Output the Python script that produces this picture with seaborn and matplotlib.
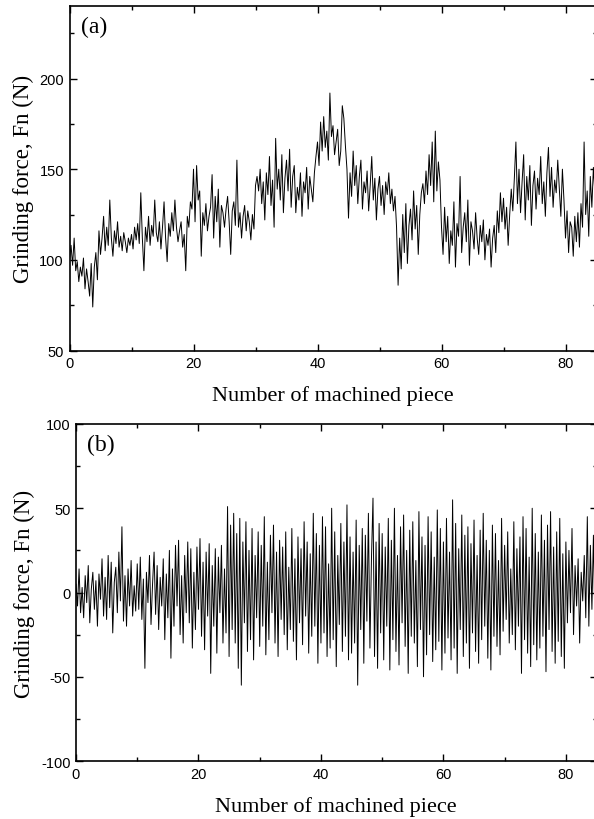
import numpy as np
import pandas as pd
import matplotlib
matplotlib.use("Agg")
import matplotlib.pyplot as plt
from matplotlib.ticker import MultipleLocator
import seaborn as sns

# ---------------- data ----------------
sample_step = 0.25  # pieces per sample

force_raw = [
    100, 108, 97, 112, 94, 99, 88, 96, 91, 101, 84, 95, 88, 80, 98, 74, 96, 104, 89, 116,
    103, 112, 124, 105, 118, 108, 133, 112, 102, 116, 109, 121, 107, 113, 105, 115, 110, 104, 112, 108,
    114, 106, 118, 111, 120, 109, 137, 112, 94, 118, 110, 124, 108, 119, 113, 133, 115, 110, 121, 106,
    118, 132, 112, 99, 120, 113, 126, 116, 133, 118, 110, 116, 121, 107, 114, 94, 124, 118, 132, 128,
    150, 121, 152, 133, 138, 102, 126, 119, 131, 116, 124, 129, 147, 112, 135, 121, 139, 107, 130, 126,
    118, 128, 135, 121, 103, 127, 132, 119, 155, 118, 126, 112, 124, 130, 116, 127, 121, 111, 125, 117,
    141, 146, 138, 150, 131, 143, 122, 148, 136, 157, 130, 144, 118, 167, 139, 150, 133, 158, 126, 145,
    155, 138, 161, 129, 146, 152, 126, 140, 133, 148, 124, 143, 137, 151, 128, 146, 139, 132, 148, 157,
    165, 152, 176, 160, 179, 162, 171, 155, 192, 168, 174, 158, 165, 172, 152, 160, 185, 178, 163, 150,
    123, 148, 135, 160, 141, 152, 131, 146, 155, 128, 143, 137, 149, 127, 141, 157, 133, 145, 122, 139,
    146, 130, 141, 125, 143, 136, 148, 131, 139, 127, 135, 118, 86, 112, 95, 125, 104, 131, 98, 119,
    128, 111, 138, 117, 130, 103, 125, 137, 142, 131, 149, 136, 158, 141, 165, 132, 171, 138, 154, 144,
    118, 103, 129, 110, 124, 98, 116, 108, 132, 96, 120, 113, 146, 104, 118, 126, 110, 133, 97, 121,
    116, 106, 126, 112, 103, 119, 110, 122, 100, 114, 108, 117, 96, 112, 119, 104, 127, 115, 137, 121,
    134, 117, 129, 108, 125, 139, 127, 145, 165, 131, 150, 126, 143, 158, 122, 146, 133, 152, 119, 141,
    149, 128, 145, 136, 157, 131, 143, 124, 148, 162, 135, 151, 129, 144, 137, 155, 140, 124, 150, 133,
    112, 127, 104, 121, 118, 102, 124, 110, 126, 107, 131, 118, 165, 125, 138, 113, 146, 129, 151, 136,
    140,
]

force_residual = [
    5, -8, 14, -12, 3, -15, 10, -6, 16, -18, 2, 12, -10, 7, -20, 11, -4, 20, -14, 9,
    -16, 22, -9, 18, -24, 6, 15, -12, 24, -5, 39, -17, 10, -20, 14, -8, 19, -14, 4, -11,
    17, -10, 21, -16, 8, -45, 12, -6, 22, -19, 5, 24, -13, 16, -22, 9, -8, 20, -28, 11,
    -15, 25, -39, 14, -20, 28, -8, 31, -25, 10, -30, 22, -12, 30, -18, 26, -33, 12, -22, 27,
    -10, 32, -26, 18, -34, 24, -14, 29, -48, 16, -20, 26, -36, 21, -12, 28, -30, 14, -24, 51,
    -38, 40, -22, 47, -30, 35, -45, 44, -55, 30, -18, 42, -35, 25, -28, 38, -40, 22, -15, 36,
    -32, 28, -20, 45, -37, 18, -28, 34, -12, 40, -30, 24, -38, 31, -16, 27, -25, 36, -34, 15,
    -22, 38, -29, 20, -40, 33, -18, 26, -31, 42, -14, 30, -36, 23, -26, 47, -20, 35, -42, 28,
    -30, 45, -24, 39, -38, 17, -33, 50, -28, 36, -44, 22, -19, 41, -35, 30, -26, 52, -40, 33,
    -36, 24, -30, 43, -55, 28, -22, 38, -42, 34, -17, 47, -33, 20, 56, -38, 30, -45, 41, -24,
    35, -40, 27, -20, 44, -46, 31, -28, 50, -35, 22, -43, 39, -18, 46, -32, 25, -48, 37, -26,
    42, -30, 19, -44, 48, -22, 33, -50, 28, -37, 45, -25, 36, -41, 21, -34, 49, -29, 38, -46,
    30, -36, 44, -27, 24, -40, 55, -33, 41, -48, 26, -22, 46, -38, 34, -30, 39, -45, 29, -24,
    43, -35, 22, -42, 37, -28, 47, -20, 31, -39, 25, -46, 40, -26, 35, -32, 19, -37, 44, -23,
    28, -16, 36, -30, 14, -25, 42, -34, 26, -20, 33, -48, 45, -28, 38, -36, 21, -44, 50, -31,
    35, -40, 24, -33, 46, -26, 31, -47, 40, -22, 48, -35, 27, -42, 36, -29, 44, -38, 23, -45,
    30, -18, 25, -12, 38, -25, 16, -8, 20, -30, 12, -5, 22, -15, 45, -20, 28, -10, 34, -22,
    10,
]

x_ticks = [0, 20, 40, 60, 80]
y_ticks_a = [50, 100, 150, 200]
y_ticks_b = [-100, -50, 0, 50, 100]
panel_labels = ["(a)", "(b)"]
x_label = "Number of machined piece"
y_label = "Grinding force, Fn (N)"

df_a = pd.DataFrame({"piece": np.arange(len(force_raw)) * sample_step, "force": force_raw})
df_b = pd.DataFrame({"piece": np.arange(len(force_residual)) * sample_step, "force": force_residual})

# ---------------- style ----------------
sns.set_style("ticks")
plt.rcParams["font.family"] = ["Liberation Sans", "DejaVu Sans"]
plt.rcParams["axes.unicode_minus"] = False
plt.rcParams["text.color"] = "black"
plt.rcParams["axes.labelcolor"] = "black"
serif = ["Liberation Serif", "DejaVu Serif"]

W, H = 594, 820
fig = plt.figure(figsize=(W / 100, H / 100), dpi=100)

def px_axes(left, top, right, bottom):
    return fig.add_axes([left / W, 1 - bottom / H, (right - left) / W, (bottom - top) / H])

ax_a = px_axes(69.5, 7, 596.5, 351.5)
ax_b = px_axes(76, 425, 596.5, 762)

for ax, df, yt, ylim, lab in [
    (ax_a, df_a, y_ticks_a, (50, 240), panel_labels[0]),
    (ax_b, df_b, y_ticks_b, (-100, 100), panel_labels[1]),
]:
    sns.lineplot(data=df, x="piece", y="force", ax=ax, color="black",
                 linewidth=0.7, estimator=None, sort=False)
    ax.set_xlim(0, 85)
    ax.set_ylim(*ylim)
    ax.set_xticks(x_ticks)
    ax.set_yticks(yt)
    ax.xaxis.set_minor_locator(MultipleLocator(10))
    ax.yaxis.set_minor_locator(MultipleLocator(25))
    ax.tick_params(which="both", direction="in", top=True, right=True, width=1.0,
                   labelsize=10.5, colors="black", pad=4)
    ax.tick_params(which="major", length=5)
    ax.tick_params(which="minor", length=3)
    for s in ax.spines.values():
        s.set_linewidth(1.2)
        s.set_color("black")
    ax.set_xlabel(x_label, fontfamily=serif, fontsize=16, labelpad=11, color="black")
    ax.set_ylabel(y_label, fontfamily=serif, fontsize=16.5, labelpad=4, color="black")
    ax.text(0.022, 0.97, lab, transform=ax.transAxes, fontfamily=serif,
            fontsize=17, va="top", ha="left", color="black")

fig.savefig("out.png", dpi=100)
